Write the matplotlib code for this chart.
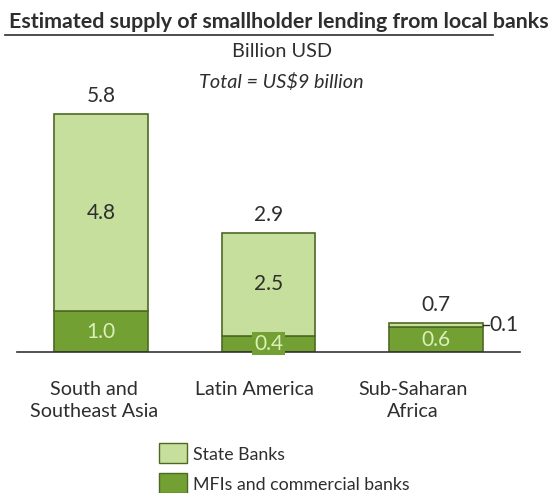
import numpy as np
import matplotlib.pyplot as plt

regions = ['South and\nSoutheast Asia', 'Latin America', 'Sub-Saharan\nAfrica']
state_banks = [4.8, 2.5, 0.1]
mfi_commercial = [1.0, 0.4, 0.6]
totals = [5.8, 2.9, 0.7]

LIGHT = '#c6df9c'
DARK = '#72a032'
EDGE = '#4d6a24'
TXT = '#2e2e2e'

plt.rcParams['font.family'] = 'Lato'

W, H = 555, 493
fig = plt.figure(figsize=(W / 100, H / 100), dpi=100)


def fy(py):
    # pixel row (from top) -> figure fraction
    return 1 - py / H


# axes placed in pixel terms: baseline at y=352, from x=17 to x=520
ax = fig.add_axes([17 / W, fy(352), (520 - 17) / W, 287 / H])
ax.set_xlim(-0.5, 2.5)
ax.set_ylim(0, 7)

x = np.arange(len(regions))
bw = 0.56
ax.bar(x, mfi_commercial, bw, color=DARK, edgecolor=EDGE, linewidth=1.2, zorder=2)
ax.bar(x, state_banks, bw, bottom=mfi_commercial, color=LIGHT, edgecolor=EDGE,
       linewidth=1.2, zorder=2)

for s in ['top', 'right', 'left']:
    ax.spines[s].set_visible(False)
ax.spines['bottom'].set_color('#333333')
ax.spines['bottom'].set_linewidth(1.2)
ax.set_xticks([])
ax.set_yticks([])

# totals above the bars
for xi, t in zip(x, totals):
    ax.text(xi, t + 0.2, f'{t:.1f}', ha='center', va='bottom', fontsize=15, color=TXT)

# segment labels
for xi, m, s in zip(x, mfi_commercial, state_banks):
    ax.text(xi, m / 2, f'{m:.1f}', ha='center', va='center', fontsize=15, color='#dcefbb',
            zorder=4, bbox=dict(boxstyle='square,pad=0.08', fc=DARK, ec='none'))
    if s >= 1:
        ax.text(xi, m + s / 2, f'{s:.1f}', ha='center', va='center', fontsize=15, color=TXT)

# small segment gets a leader line
m, s = mfi_commercial[2], state_banks[2]
ax.plot([2 + bw / 2, 2 + bw / 2 + 0.035], [m + s / 2, m + s / 2], color=TXT, lw=1)
ax.text(2 + bw / 2 + 0.04, m + s / 2, f'{s:.1f}', ha='left', va='center', fontsize=15, color=TXT)

# category names
label_shift = [-0.04, -0.085, -0.14]
for xi, lab, dx in zip(x, regions, label_shift):
    ax.text(xi + dx, -0.7, lab, ha='center', va='top', fontsize=14.2, color=TXT,
            linespacing=1.38)

# headings
fig.text(279 / W, fy(28), 'Estimated supply of smallholder lending from local banks',
         ha='center', va='baseline', fontsize=15.4, fontweight='bold', color=TXT)
fig.add_artist(plt.Line2D([5 / W, 493 / W], [fy(34.5), fy(34.5)], color=TXT, lw=1.2))
fig.text(282 / W, fy(57), 'Billion USD', ha='center', va='baseline', fontsize=14.3, color=TXT)
fig.text(281 / W, fy(88), r'Total = US\$9 billion', ha='center', va='baseline',
         fontsize=14.3, style='italic', color=TXT)

# legend drawn by hand
for top, col, lab in [(443, LIGHT, 'State Banks'), (473, DARK, 'MFIs and commercial banks')]:
    fig.add_artist(plt.Rectangle((159 / W, fy(top + 20)), 28 / W, 20 / H,
                                 fc=col, ec=EDGE, lw=1, transform=fig.transFigure))
    fig.text(193 / W, fy(top + 17), lab, ha='left', va='baseline', fontsize=12.8, color=TXT)

fig.savefig('out.png', dpi=100)
